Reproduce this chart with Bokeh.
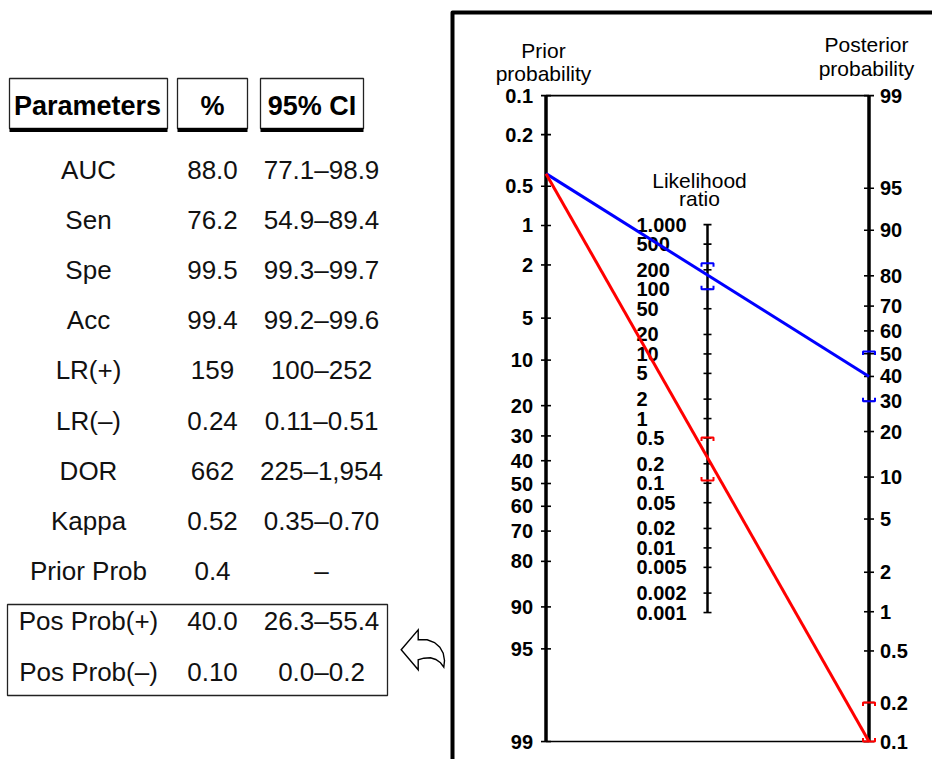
import numpy as np
from bokeh.plotting import figure
from bokeh.models import Range1d
from bokeh.core.properties import value
from bokeh.embed import file_html
from bokeh.resources import INLINE

# ---------------- data ----------------
headers = ["Parameters", "%", "95% CI"]
param_names = ["AUC", "Sen", "Spe", "Acc", "LR(+)", "LR(–)", "DOR", "Kappa",
               "Prior Prob", "Pos Prob(+)", "Pos Prob(–)"]
param_values = ["88.0", "76.2", "99.5", "99.4", "159", "0.24", "662", "0.52",
                "0.4", "40.0", "0.10"]
param_ci = ["77.1–98.9", "54.9–89.4", "99.3–99.7", "99.2–99.6", "100–252",
            "0.11–0.51", "225–1,954", "0.35–0.70", "–", "26.3–55.4", "0.0–0.2"]

prior_ticks = [0.1, 0.2, 0.5, 1, 2, 5, 10, 20, 30, 40, 50, 60, 70, 80, 90, 95, 99]
prior_labels = ["0.1", "0.2", "0.5", "1", "2", "5", "10", "20", "30", "40", "50",
                "60", "70", "80", "90", "95", "99"]
lr_ticks = [1000, 500, 200, 100, 50, 20, 10, 5, 2, 1, 0.5, 0.2, 0.1, 0.05, 0.02,
            0.01, 0.005, 0.002, 0.001]
lr_labels = ["1.000", "500", "200", "100", "50", "20", "10", "5", "2", "1", "0.5",
             "0.2", "0.1", "0.05", "0.02", "0.01", "0.005", "0.002", "0.001"]
post_ticks = [99, 95, 90, 80, 70, 60, 50, 40, 30, 20, 10, 5, 2, 1, 0.5, 0.2, 0.1]
post_labels = ["99", "95", "90", "80", "70", "60", "50", "40", "30", "20", "10",
               "5", "2", "1", "0.5", "0.2", "0.1"]

prior_prob = 0.4            # %
lr_pos_ci = [252, 100]      # upper, lower
lr_neg_ci = [0.51, 0.11]
post_pos = 40.0             # %
post_neg = 0.10             # %
post_pos_ci_marks = [51.0, 30.0]   # as marked on the nomogram
post_neg_ci_marks = [0.2, 0.1]

# ---------------- scales ----------------
def logit(p):
    p = np.asarray(p, dtype=float) / 100.0
    return np.log(p / (1 - p))

C = float(logit(0.1) + logit(99))

def u_prior(p):
    return logit(p)

def u_post(p):
    return C - logit(p)

def u_lr(lr):
    return (C - np.log(np.asarray(lr, dtype=float))) / 2.0

W, H = 932, 759
X0, Y0 = 0, 0
p = figure(width=W, height=H, output_backend="svg", toolbar_location=None,
           x_range=Range1d(X0, X0 + W), y_range=Range1d(Y0 + H, Y0),
           x_axis_location=None, y_axis_location=None, min_border=0)
p.outline_line_color = None
p.xgrid.visible = False
p.ygrid.visible = False
p.background_fill_color = "white"
p.border_fill_color = "white"

# nomogram ranges (page px = centre + scale * unit)
NY_C, NY_S = 483.0, 56.16
NX_C, NX_S = 545.5, 161.5
p.extra_y_ranges = {
    "ny": Range1d((Y0 + H - NY_C) / NY_S, (Y0 - NY_C) / NY_S),
    "rows": Range1d((Y0 + H - 169.0) / 50.2, (Y0 - 169.0) / 50.2),
}
p.extra_x_ranges = {"nx": Range1d((X0 - NX_C) / NX_S, (X0 + W - NX_C) / NX_S)}
N = dict(x_range_name="nx", y_range_name="ny")

FONT = value("Liberation Sans")

# frame
p.line(x=[452, 452, 990], y=[800, 12, 12], line_width=4, line_color="black",
       line_join="round")

# nomogram top / bottom borders
p.segment(x0=[0, 0], x1=[2, 2], y0=[u_prior(0.1), u_prior(99)],
          y1=[u_prior(0.1), u_prior(99)], line_width=1.6, line_color="black", **N)

# axes
p.segment(x0=[0, 1, 2], x1=[0, 1, 2],
          y0=[u_prior(0.1), u_lr(1000), u_post(99)],
          y1=[u_prior(99), u_lr(0.001), u_post(0.1)],
          line_width=[3.5, 2.5, 3.5], line_color="black", **N)

# ticks
p.scatter(x=[0] * len(prior_ticks), y=u_prior(prior_ticks), marker="dash", size=10,
          line_width=1.6, line_color="black", **N)
p.scatter(x=[1] * len(lr_ticks), y=u_lr(lr_ticks), marker="dash", size=8,
          line_width=1.6, line_color="black", **N)
p.scatter(x=[2] * len(post_ticks), y=u_post(post_ticks), marker="dash", size=10,
          line_width=1.6, line_color="black", **N)

# tick labels
lab = dict(text_font=FONT, text_font_style="bold", text_font_size=value("20px"),
           text_baseline="middle", text_color="black")
p.text(x=[0] * len(prior_ticks), y=u_prior(prior_ticks), text=prior_labels,
       x_offset=-13, text_align="right", **lab, **N)
p.text(x=[1] * len(lr_ticks), y=u_lr(lr_ticks), text=lr_labels,
       x_offset=-71, text_align="left", **lab, **N)
p.text(x=[2] * len(post_ticks), y=u_post(post_ticks), text=post_labels,
       x_offset=11, text_align="left", **lab, **N)

# titles
tt = dict(text_font=FONT, text_font_size=value("21px"), text_align="center",
          text_baseline="alphabetic", text_color="black")
p.text(x=[543, 543], y=[50, 73], text=["Prior", "probability"], **tt)
p.text(x=[866, 866], y=[44, 68], text=["Posterior", "probability"], **tt)
p.text(x=[699, 699], y=[180, 198], text=["Likelihood", "ratio"], **tt)

# result lines
p.line(x=[0, 2], y=[u_prior(prior_prob), u_post(post_pos)], line_color="#0000ff",
       line_width=3, **N)
p.line(x=[0, 2], y=[u_prior(prior_prob), u_post(post_neg)], line_color="#ff0000",
       line_width=3, **N)

# CI brackets: upper end drawn as a cap with legs down, lower end with legs up
HALF, LEG = 6.0 / NX_S, 3.5 / NY_S

def brackets(x, u_upper, u_lower):
    xs, ys = [], []
    xs.append([x - HALF, x - HALF, x + HALF, x + HALF])
    ys.append([u_upper + LEG, u_upper, u_upper, u_upper + LEG])
    xs.append([x - HALF, x - HALF, x + HALF, x + HALF])
    ys.append([u_lower - LEG, u_lower, u_lower, u_lower - LEG])
    return xs, ys

for xk, vals, fn, col in [(1, lr_pos_ci, u_lr, "#0000ff"),
                          (2, post_pos_ci_marks, u_post, "#0000ff"),
                          (1, lr_neg_ci, u_lr, "#ff0000"),
                          (2, post_neg_ci_marks, u_post, "#ff0000")]:
    uu = fn(vals)
    xs, ys = brackets(xk, float(uu[0]), float(uu[1]))
    p.multi_line(xs=xs, ys=ys, line_color=col, line_width=2, **N)

# ---------------- table ----------------
col_x = [88, 212, 321]
hdr_left = [9, 177, 260]
hdr_right = [167, 247, 363]
p.quad(left=hdr_left, right=hdr_right, top=[78] * 3, bottom=[128] * 3,
       fill_color="white", line_color="#222222", line_width=1.3)
p.segment(x0=hdr_left, x1=hdr_right, y0=[129.5] * 3, y1=[129.5] * 3,
          line_color="black", line_width=4)
p.text(x=[87, 212, 311.5], y=[105] * 3, text=headers, text_font=FONT,
       text_font_style="bold", text_font_size=value("27px"), text_align="center",
       text_baseline="middle", text_color="black")

rows = list(range(len(param_names)))
body = dict(text_font=FONT, text_font_size=value("26px"), text_align="center",
            text_baseline="middle", text_color="#111111", y_range_name="rows")
p.text(x=[col_x[0]] * len(rows), y=rows, text=param_names, **body)
p.text(x=[col_x[1]] * len(rows), y=rows, text=param_values, **body)
p.text(x=[col_x[2]] * len(rows), y=rows, text=param_ci, **body)

# box around posterior probabilities
p.quad(left=[7], right=[387], top=[604], bottom=[695], fill_color=None,
       line_color="#222222", line_width=1.3)

# curved arrow
arrow_dx = [0.7, 17.7, 17.7, 26.7, 34, 39.3, 42.7, 44, 43.3, 40, 35.3, 30, 23.3, 17.7, 17.7]
arrow_dy = [0.3, -19.7, -9.7, -9.7, -7, -2.3, 3.7, 11, 17.7, 13.3, 10, 8.3, 8.7, 10.3, 20.3]
ax, ay = 400, 649
p.patch(x=[ax + d for d in arrow_dx], y=[ay + d for d in arrow_dy],
        fill_color="white", line_color="black", line_width=1.4, line_join="miter")

open("out.html", "w").write(file_html(p, INLINE))
